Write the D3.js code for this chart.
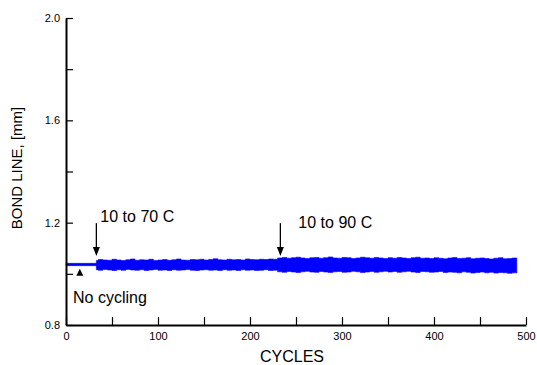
<!DOCTYPE html>
<html>
<head>
<meta charset="utf-8">
<script src="https://cdnjs.cloudflare.com/ajax/libs/d3/7.8.5/d3.min.js"></script>
<style>
  body { margin: 0; background: #fff; }
  svg { display: block; font-family: Arial, "Liberation Sans", sans-serif; }
</style>
</head>
<body>
<svg id="chart" width="537" height="365"></svg>
<script>
// band envelope of the bond line signal (mm), one step every 5 cycles
var cycles = [0, 33, 35, 40, 45, 50, 55, 60, 65, 70, 75, 80, 85, 90, 95, 100, 105, 110, 115, 120,
    125, 130, 135, 140, 145, 150, 155, 160, 165, 170, 175, 180, 185, 190, 195, 200, 205, 210, 215, 220,
    225, 230, 235, 240, 245, 250, 255, 260, 265, 270, 275, 280, 285, 290, 295, 300, 305, 310, 315, 320,
    325, 330, 335, 340, 345, 350, 355, 360, 365, 370, 375, 380, 385, 390, 395, 400, 405, 410, 415, 420,
    425, 430, 435, 440, 445, 450, 455, 460, 465, 470, 475, 480, 485, 490];

var bandTop = [1.041,
    1.052, 1.056, 1.054, 1.053, 1.057, 1.054, 1.052, 1.055, 1.058, 1.053, 1.055, 1.054, 1.057, 1.052, 1.054,
    1.056, 1.053, 1.055, 1.058, 1.054, 1.053, 1.056, 1.055, 1.057, 1.054, 1.056, 1.059, 1.055, 1.054, 1.057,
    1.055, 1.056, 1.054, 1.058, 1.056, 1.055, 1.057, 1.056, 1.058, 1.057,
    1.062, 1.064, 1.061, 1.063, 1.065, 1.062, 1.060, 1.063, 1.064, 1.061,
    1.063, 1.066, 1.062, 1.061, 1.064, 1.063, 1.060, 1.062, 1.065, 1.063,
    1.061, 1.064, 1.062, 1.060, 1.063, 1.061, 1.064, 1.062, 1.060, 1.063,
    1.065, 1.061, 1.062, 1.060, 1.063, 1.061, 1.059, 1.062, 1.064, 1.060,
    1.061, 1.063, 1.059, 1.061, 1.062, 1.060, 1.058, 1.061, 1.063, 1.059,
    1.060, 1.062, 1.061];

var bandBottom = [1.032,
    1.016, 1.014, 1.017, 1.015, 1.013, 1.016, 1.014, 1.017, 1.015, 1.014, 1.016, 1.013, 1.015, 1.017, 1.014,
    1.015, 1.013, 1.016, 1.014, 1.015, 1.017, 1.014, 1.013, 1.015, 1.016, 1.014, 1.015, 1.013, 1.016, 1.014,
    1.015, 1.013, 1.016, 1.014, 1.015, 1.013, 1.014, 1.016, 1.013, 1.014,
    1.008, 1.006, 1.009, 1.007, 1.005, 1.008, 1.010, 1.007, 1.006, 1.009,
    1.007, 1.005, 1.008, 1.009, 1.006, 1.007, 1.010, 1.008, 1.005, 1.007,
    1.009, 1.006, 1.008, 1.010, 1.007, 1.009, 1.006, 1.008, 1.010, 1.007,
    1.005, 1.009, 1.008, 1.006, 1.007, 1.009, 1.005, 1.007, 1.006, 1.004,
    1.008, 1.006, 1.003, 1.005, 1.007, 1.004, 1.006, 1.003, 1.005, 1.004,
    1.002, 1.004, 1.003];

var xTicks = [0, 50, 100, 150, 200, 250, 300, 350, 400, 450, 500];
var xTickLabels = ["0", "", "100", "", "200", "", "300", "", "400", "", "500"];
var yTicks = [0.8, 1.0, 1.2, 1.4, 1.6, 1.8, 2.0];
var yTickLabels = ["0.8", "", "1.2", "", "1.6", "", "2.0"];

// annotations: cycle of the arrow, label, arrow start / end value
var arrowCycles = [33, 233];
var arrowLabels = ["10 to 70 C", "10 to 90 C"];
var arrowFrom = [1.198, 1.198];
var arrowTo = [1.070, 1.070];
var noCycleCycle = 15;
var noCycleLabel = "No cycling";

var svg = d3.select("#chart");
var margin = {top: 18, right: 11, bottom: 40, left: 66};
var width = +svg.attr("width") - margin.left - margin.right;
var height = +svg.attr("height") - margin.top - margin.bottom;

var g = svg.append("g")
    .attr("transform", "translate(" + margin.left + "," + margin.top + ")");

var x = d3.scaleLinear().domain([0, 500]).range([0, width]);
var y = d3.scaleLinear().domain([0.8, 2.0]).range([height, 0]);

var band = cycles.map(function (c, i) {
    return {c: c, top: bandTop[i], bottom: bandBottom[i]};
});

var area = d3.area()
    .curve(d3.curveStepAfter)
    .x(function (d) { return x(d.c); })
    .y0(function (d) { return y(d.bottom); })
    .y1(function (d) { return y(d.top); });

g.append("path")
    .datum(band)
    .attr("d", area)
    .attr("fill", "#0000ff")
    .attr("stroke", "#0000ff")
    .attr("stroke-width", 0.6);

// axes
var xAxis = d3.axisBottom(x)
    .tickValues(xTicks)
    .tickSizeInner(-8)
    .tickSizeOuter(0)
    .tickPadding(7)
    .tickFormat(function (d, i) { return xTickLabels[i]; });

var yAxis = d3.axisLeft(y)
    .tickValues(yTicks)
    .tickSizeInner(-7)
    .tickSizeOuter(0)
    .tickPadding(6)
    .tickFormat(function (d, i) { return yTickLabels[i]; });

var gx = g.append("g").attr("transform", "translate(0," + height + ")").call(xAxis);
var gy = g.append("g").call(yAxis);

[gx, gy].forEach(function (a) {
    a.select(".domain").attr("stroke", "#000").attr("stroke-width", 2);
    a.selectAll(".tick line").attr("stroke", "#000").attr("stroke-width", 1.2);
    a.selectAll(".tick text").attr("fill", "#000").style("font-size", "11px");
});

// arrows and labels
arrowCycles.forEach(function (c, i) {
    var ax = x(c);
    var y0 = y(arrowFrom[i]);
    var y1 = y(arrowTo[i]);
    g.append("line")
        .attr("x1", ax).attr("x2", ax)
        .attr("y1", y0).attr("y2", y1 - 6)
        .attr("stroke", "#000").attr("stroke-width", 1.3);
    g.append("path")
        .attr("d", "M" + (ax - 3.5) + "," + (y1 - 9) + "L" + (ax + 3.5) + "," + (y1 - 9) + "L" + ax + "," + y1 + "Z")
        .attr("fill", "#000");
});

g.append("text")
    .attr("x", x(arrowCycles[0]) + 4)
    .attr("y", y(arrowFrom[0]) - 1)
    .style("font-size", "16px")
    .text(arrowLabels[0]);

g.append("text")
    .attr("x", x(arrowCycles[1]) + 18)
    .attr("y", y(arrowFrom[1]) + 5)
    .style("font-size", "16px")
    .text(arrowLabels[1]);

// no cycling marker
var nx = x(noCycleCycle);
var ny = y(bandBottom[0]) + 3;
g.append("path")
    .attr("d", "M" + nx + "," + ny + "L" + (nx + 3.5) + "," + (ny + 7) + "L" + (nx - 3.5) + "," + (ny + 7) + "Z")
    .attr("fill", "#000");

g.append("text")
    .attr("x", 7)
    .attr("y", ny + 34)
    .style("font-size", "16px")
    .text(noCycleLabel);

// axis titles
svg.append("text")
    .attr("x", 292)
    .attr("y", 362)
    .attr("text-anchor", "middle")
    .style("font-size", "16px")
    .text("CYCLES");

svg.append("text")
    .attr("transform", "translate(22,168) rotate(-90)")
    .attr("text-anchor", "middle")
    .style("font-size", "15px")
    .text("BOND LINE, [mm]");
</script>
</body>
</html>
